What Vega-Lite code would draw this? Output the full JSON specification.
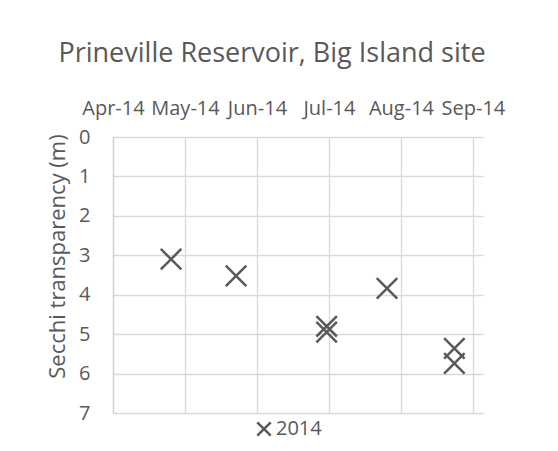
{
  "$schema": "https://vega.github.io/schema/vega-lite/v6.json",
  "autosize": {"type": "none"},
  "width": 370,
  "height": 276,
  "padding": {"left": 113, "top": 137, "right": 75, "bottom": 38},
  "background": "white",
  "title": {
    "text": "Prineville Reservoir, Big Island site",
    "font": "Open Sans",
    "fontSize": 27,
    "fontWeight": "normal",
    "color": "#595959",
    "anchor": "middle",
    "dx": -26,
    "offset": 30
  },
  "data": {
    "values": [
      {"date": "2014-04-26", "secchi": 3.1, "series": "2014"},
      {"date": "2014-05-24", "secchi": 3.52, "series": "2014"},
      {"date": "2014-07-02", "secchi": 4.8, "series": "2014"},
      {"date": "2014-07-02", "secchi": 4.95, "series": "2014"},
      {"date": "2014-07-28", "secchi": 3.84, "series": "2014"},
      {"date": "2014-08-26", "secchi": 5.36, "series": "2014"},
      {"date": "2014-08-26", "secchi": 5.74, "series": "2014"}
    ]
  },
  "mark": {"type": "point", "filled": false, "strokeWidth": 2.5, "size": 420, "opacity": 1, "color": "#595959", "stroke": "#595959"},
  "encoding": {
    "x": {
      "field": "date",
      "type": "temporal",
      "scale": {
        "type": "utc",
        "domain": [
          {"year": 2014, "month": "apr", "date": 1, "utc": true},
          {"year": 2014, "month": "sep", "date": 7, "hours": 8, "utc": true}
        ]
      },
      "axis": {
        "orient": "top",
        "title": null,
        "values": [
          {"year": 2014, "month": "apr", "date": 1, "utc": true},
          {"year": 2014, "month": "may", "date": 2, "utc": true},
          {"year": 2014, "month": "jun", "date": 2, "utc": true},
          {"year": 2014, "month": "jul", "date": 3, "utc": true},
          {"year": 2014, "month": "aug", "date": 3, "utc": true},
          {"year": 2014, "month": "sep", "date": 3, "utc": true}
        ],
        "labelExpr": "utcFormat(datum.value, '%b-%y')",
        "labelFont": "Open Sans",
        "labelFontSize": 20,
        "labelColor": "#595959",
        "labelBaseline": "alphabetic",
        "labelPadding": 23,
        "labelOverlap": false,
        "labelFlush": false,
        "ticks": false,
        "tickSize": 0,
        "domain": false,
        "grid": true,
        "gridColor": "#d9d9d9",
        "gridWidth": 1.3
      }
    },
    "y": {
      "field": "secchi",
      "type": "quantitative",
      "scale": {"domain": [0, 7], "reverse": true, "nice": false, "zero": false},
      "axis": {
        "title": "Secchi transparency (m)",
        "titleFont": "Open Sans",
        "titleFontSize": 22,
        "titleFontWeight": "normal",
        "titleColor": "#595959",
        "titlePadding": 9,
        "titleY": 119,
        "values": [0, 1, 2, 3, 4, 5, 6, 7],
        "labelFont": "Open Sans",
        "labelFontSize": 20,
        "labelColor": "#595959",
        "labelPadding": 23,
        "labelFlush": false,
        "labelOverlap": false,
        "ticks": false,
        "tickSize": 0,
        "domain": true,
        "domainColor": "#d0d0d0",
        "domainWidth": 1.3,
        "grid": true,
        "gridColor": "#d9d9d9",
        "gridWidth": 1.3
      }
    },
    "shape": {
      "field": "series",
      "type": "nominal",
      "scale": {"range": ["M-1,-1L1,1M-1,1L1,-1"]},
      "legend": {
        "title": null,
        "orient": "none",
        "legendX": 141,
        "legendY": 282,
        "padding": 0,
        "symbolSize": 180,
        "symbolStrokeWidth": 2.5,
        "symbolStrokeColor": "#595959",
        "symbolFillColor": "transparent",
        "labelFont": "Open Sans",
        "labelFontSize": 20,
        "labelColor": "#595959",
        "labelOffset": 2
      }
    }
  },
  "config": {
    "view": {"stroke": null}
  }
}
